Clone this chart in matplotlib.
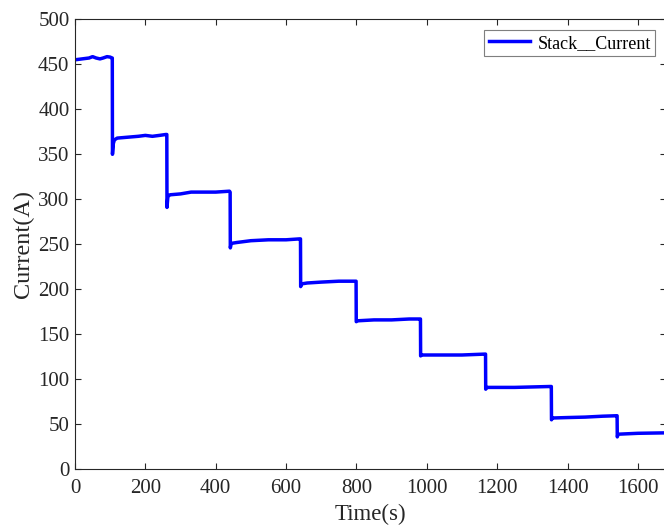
import matplotlib
matplotlib.use("Agg")
import matplotlib.pyplot as plt

plt.rcParams['font.family'] = ['Liberation Serif', 'DejaVu Serif']

time_s = [0, 20, 40, 50, 60, 71, 80, 91, 100, 105, 106,
          106.5, 109, 112, 120, 150, 180, 200, 220, 240, 258, 261,
          261.5, 264, 270, 300, 330, 360, 400, 439, 441,
          441.5, 444, 460, 500, 550, 600, 638, 641,
          641.5, 644, 660, 700, 750, 797, 799,
          799.5, 803, 850, 900, 950, 980, 982,
          982.5, 985, 1050, 1100, 1165, 1167,
          1167.5, 1170, 1250, 1350, 1354,
          1354.5, 1357, 1400, 1450, 1500, 1539, 1541,
          1541.5, 1544, 1600, 1680]
current_a = [455, 456, 457, 458.5, 457, 456, 457, 458.5, 458, 457, 457,
             350, 362, 366, 368, 369, 370, 371, 370, 371, 372, 372,
             291, 303, 305, 306, 308, 308, 308, 309, 308,
             246, 251, 252, 254, 255, 255, 256, 256,
             203, 206, 207, 208, 209, 209, 209,
             164, 165, 166, 166, 167, 167, 167,
             126, 127, 127, 127, 128, 128,
             89, 91, 91, 92, 92,
             55, 57, 57.5, 58, 59, 59.5, 59.5,
             36, 39, 40, 40.5]

x_ticks = [0, 200, 400, 600, 800, 1000, 1200, 1400, 1600]
y_ticks = [0, 50, 100, 150, 200, 250, 300, 350, 400, 450, 500]

fig = plt.figure(figsize=(6.64, 5.25), dpi=100)
ax = fig.add_axes([75/664, 55.7/525, 591/664, 450/525])
ax.plot(time_s, current_a, color='#0000ff', linewidth=2.5, label='Stack__Current')
ax.set_xlim(0, 1680)
ax.set_ylim(0, 500)
ax.set_xticks(x_ticks)
ax.set_yticks(y_ticks)
dark = '#262626'
ax.tick_params(direction='in', top=True, right=True, length=4, width=0.8,
               labelsize=15, colors=dark)
ax.tick_params(axis='x', pad=7)
ax.tick_params(axis='y', pad=4)
for s in ax.spines.values():
    s.set_color(dark)
    s.set_linewidth(0.8)
ax.set_xlabel('Time(s)', fontsize=16.5, color=dark, labelpad=4)
ax.set_ylabel('Current(A)', fontsize=17.5, color=dark, labelpad=3)
leg = ax.legend(loc='upper right', fontsize=13, fancybox=False, framealpha=1,
                edgecolor='#7f7f7f', borderaxespad=0.6, handlelength=2.3,
                borderpad=0.25, handletextpad=0.4)
leg.get_frame().set_linewidth(0.8)
fig.savefig('out.png', dpi=100)
